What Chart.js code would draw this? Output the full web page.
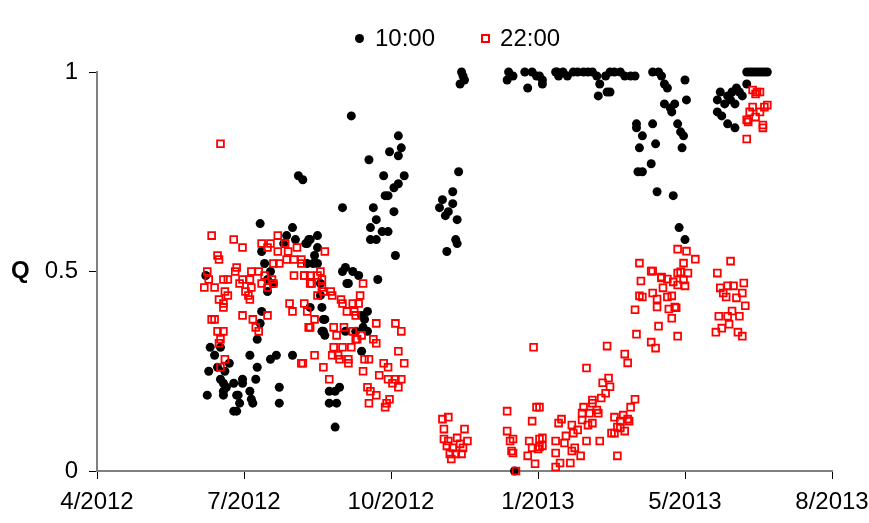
<!DOCTYPE html>
<html>
<head>
<meta charset="utf-8">
<script src="https://cdn.jsdelivr.net/npm/chart.js@4.4.1/dist/chart.umd.min.js"></script>
<style>
  body { margin: 0; background: #fff; }
  #wrap { position: relative; width: 869px; height: 523px; }
  #legend { position: absolute; top: 24px; left: 355px; display: flex; align-items: center;
            font: 24px Arial, "Liberation Sans", sans-serif; color: #000; }
  .dot { width: 9px; height: 9px; border-radius: 50%; background: #000; margin-right: 11px; }
  .sq { box-sizing: border-box; width: 9px; height: 9px; border: 2px solid #ff0000; margin-right: 10px; }
  .gap { width: 46px; }
</style>
</head>
<body>
<div id="wrap">
  <canvas id="chart" width="869" height="523"></canvas>
  <div id="legend">
    <span class="dot"></span><span>10:00</span><span class="gap"></span>
    <span class="sq"></span><span>22:00</span>
  </div>
</div>
<script>
// x values are days counted from 1 Apr 2012 (axis runs 0..500 in steps of 100 days)
const xTickDays = [0, 100, 200, 300, 400, 500];
const xTickLabels = ['4/2012', '7/2012', '10/2012', '1/2013', '5/2013', '8/2013'];
const yTicks = [0, 0.5, 1];

// 10:00 readings
const am10Days = [
  74, 77, 80, 84, 90, 82, 87, 109, 108, 76, 84, 86, 88, 93, 99, 99, 104, 105, 106, 75,
  86, 86, 95, 96, 97, 95, 93, 124, 124, 104, 118, 122, 133, 112, 111, 109, 116, 120, 116, 114,
  111, 129, 133, 135, 137, 140, 112, 127, 118, 143, 145, 150, 144, 142, 148, 150, 147, 143, 150, 167,
  167, 169, 174, 178, 170, 171, 191, 152, 152, 153, 154, 155, 153, 154, 155, 145, 180, 182, 184, 181,
  176, 169, 184, 180, 158, 162, 165, 163, 158, 162, 173, 205, 207, 199, 205, 185, 195, 209, 202, 205,
  196, 198, 188, 202, 190, 186, 194, 198, 186, 190, 203, 246, 242, 235, 233, 242, 239, 237, 245, 244,
  245, 238, 248, 249, 247, 250, 280, 283, 279, 291, 296, 299, 301, 303, 293, 313, 284, 303, 312, 314,
  317, 320, 324, 327, 331, 334, 337, 340, 342, 346, 349, 352, 356, 359, 363, 366, 341, 347, 349, 378,
  382, 384, 386, 388, 386, 390, 391, 393, 401, 400, 395, 397, 399, 367, 367, 378, 371, 369, 380, 398,
  377, 368, 371, 381, 392, 396, 400, 424, 429, 435, 437, 442, 432, 422, 427, 431, 434, 439, 422, 425,
  429, 434, 442, 444, 446, 448, 450, 452, 454, 456
];
const am10Q = [
  0.49, 0.31, 0.29, 0.31, 0.27, 0.26, 0.25, 0.26, 0.23, 0.25, 0.23, 0.22, 0.21, 0.22, 0.23, 0.22, 0.20, 0.18, 0.17, 0.19,
  0.20, 0.19, 0.19, 0.19, 0.17, 0.15, 0.15, 0.21, 0.17, 0.29, 0.28, 0.29, 0.29, 0.40, 0.37, 0.33, 0.45, 0.47, 0.48, 0.52,
  0.62, 0.59, 0.61, 0.58, 0.74, 0.73, 0.55, 0.57, 0.50, 0.57, 0.58, 0.59, 0.58, 0.57, 0.54, 0.56, 0.52, 0.52, 0.52, 0.66,
  0.50, 0.51, 0.50, 0.49, 0.47, 0.47, 0.48, 0.47, 0.44, 0.41, 0.38, 0.38, 0.35, 0.35, 0.34, 0.41, 0.39, 0.38, 0.35, 0.36,
  0.35, 0.35, 0.40, 0.30, 0.20, 0.20, 0.21, 0.17, 0.17, 0.11, 0.89, 0.84, 0.81, 0.80, 0.79, 0.78, 0.74, 0.74, 0.71, 0.72,
  0.69, 0.69, 0.66, 0.65, 0.63, 0.61, 0.60, 0.60, 0.58, 0.58, 0.54, 0.75, 0.70, 0.68, 0.66, 0.67, 0.65, 0.64, 0.63, 0.58,
  0.57, 0.55, 1.00, 0.99, 0.97, 0.98, 1.00, 0.99, 0.98, 1.00, 1.00, 0.99, 0.99, 0.97, 0.96, 1.00, 0.00, 0.98, 1.00, 0.99,
  1.00, 0.99, 1.00, 1.00, 1.00, 1.00, 1.00, 0.99, 0.97, 0.99, 1.00, 1.00, 1.00, 0.99, 0.99, 0.99, 0.94, 0.95, 0.95, 1.00,
  1.00, 0.99, 0.97, 0.96, 0.92, 0.91, 0.90, 0.92, 0.93, 0.98, 0.87, 0.85, 0.84, 0.87, 0.86, 0.87, 0.84, 0.81, 0.82, 0.81,
  0.77, 0.75, 0.75, 0.70, 0.69, 0.61, 0.58, 0.95, 0.94, 0.96, 0.95, 0.97, 0.95, 0.93, 0.92, 0.93, 0.92, 0.94, 0.90, 0.89,
  0.87, 0.86, 1.00, 1.00, 1.00, 1.00, 1.00, 1.00, 1.00, 1.00
];

// 22:00 readings
const pm22Days = [
  84, 78, 93, 99, 112, 118, 123, 128, 136, 130, 116, 82, 83, 123, 120, 124, 129, 134, 139, 75,
  76, 73, 80, 86, 89, 87, 89, 83, 86, 86, 95, 94, 99, 105, 110, 104, 97, 101, 105, 103,
  104, 114, 112, 119, 120, 116, 134, 141, 145, 131, 133, 141, 143, 78, 80, 99, 116, 106, 108, 110,
  82, 86, 84, 83, 87, 84, 144, 139, 155, 139, 141, 145, 150, 152, 153, 146, 153, 159, 154, 160,
  150, 181, 148, 145, 166, 167, 179, 178, 174, 170, 175, 176, 161, 163, 168, 174, 177, 180, 176, 190,
  203, 207, 188, 190, 161, 167, 173, 160, 164, 165, 171, 171, 148, 140, 154, 158, 182, 185, 181, 195,
  198, 192, 205, 209, 207, 203, 198, 201, 205, 184, 186, 190, 185, 199, 197, 196, 235, 239, 236, 250,
  236, 239, 245, 252, 238, 242, 247, 249, 240, 244, 248, 241, 297, 299, 279, 296, 279, 281, 283, 282,
  283, 294, 296, 301, 303, 303, 300, 293, 298, 285, 312, 312, 312, 314, 301, 301, 315, 322, 316, 323,
  327, 324, 319, 318, 325, 323, 329, 333, 342, 333, 331, 337, 337, 340, 341, 330, 335, 330, 334, 337,
  343, 346, 348, 349, 344, 352, 358, 356, 361, 362, 354, 359, 350, 352, 356, 354, 366, 363, 347, 359,
  361, 367, 377, 380, 369, 377, 370, 369, 371, 378, 381, 381, 366, 384, 385, 388, 388, 391, 389, 391,
  393, 395, 395, 395, 382, 395, 401, 407, 399, 397, 402, 378, 384, 392, 399, 400, 394, 431, 422, 424,
  429, 433, 440, 426, 428, 435, 439, 441, 432, 423, 429, 437, 430, 425, 421, 436, 439, 446, 449, 451,
  448, 446, 454, 451, 444, 448, 442, 443, 453, 453, 442, 456
];
const pm22Q = [
  0.82, 0.59, 0.58, 0.56, 0.57, 0.57, 0.59, 0.57, 0.56, 0.55, 0.56, 0.54, 0.53, 0.55, 0.52, 0.52, 0.53, 0.53, 0.53, 0.50,
  0.48, 0.46, 0.46, 0.48, 0.48, 0.45, 0.44, 0.43, 0.42, 0.41, 0.51, 0.50, 0.48, 0.50, 0.50, 0.48, 0.47, 0.45, 0.46, 0.44,
  0.43, 0.49, 0.47, 0.48, 0.47, 0.46, 0.49, 0.49, 0.47, 0.42, 0.40, 0.42, 0.40, 0.38, 0.38, 0.39, 0.39, 0.38, 0.36, 0.35,
  0.35, 0.35, 0.33, 0.32, 0.28, 0.26, 0.36, 0.27, 0.55, 0.52, 0.49, 0.49, 0.49, 0.50, 0.48, 0.47, 0.46, 0.45, 0.45, 0.44,
  0.44, 0.47, 0.38, 0.36, 0.43, 0.42, 0.44, 0.42, 0.42, 0.40, 0.40, 0.39, 0.36, 0.34, 0.36, 0.35, 0.33, 0.34, 0.33, 0.37,
  0.37, 0.35, 0.33, 0.32, 0.31, 0.31, 0.31, 0.29, 0.29, 0.28, 0.28, 0.27, 0.29, 0.27, 0.26, 0.23, 0.28, 0.28, 0.25, 0.27,
  0.26, 0.24, 0.30, 0.27, 0.23, 0.23, 0.23, 0.22, 0.21, 0.21, 0.20, 0.19, 0.17, 0.18, 0.17, 0.16, 0.13, 0.135, 0.105, 0.105,
  0.08, 0.075, 0.083, 0.075, 0.063, 0.058, 0.068, 0.058, 0.043, 0.043, 0.043, 0.03, 0.31, 0.16, 0.15, 0.125, 0.10, 0.075, 0.08, 0.05,
  0.045, 0.075, 0.058, 0.08, 0.083, 0.063, 0.055, 0.038, 0.018, 0.00, 0.075, 0.045, 0.01, 0.12, 0.16, 0.06, 0.02, 0.02, 0.13, 0.115,
  0.103, 0.095, 0.088, 0.07, 0.058, 0.05, 0.038, 0.075, 0.075, 0.258, 0.16, 0.178, 0.17, 0.153, 0.145, 0.145, 0.145, 0.128, 0.115, 0.12,
  0.183, 0.195, 0.233, 0.211, 0.221, 0.135, 0.14, 0.125, 0.13, 0.125, 0.11, 0.10, 0.095, 0.095, 0.108, 0.038, 0.18, 0.16, 0.313, 0.293,
  0.271, 0.343, 0.323, 0.308, 0.521, 0.501, 0.476, 0.439, 0.436, 0.446, 0.431, 0.411, 0.404, 0.486, 0.459, 0.481, 0.436, 0.439, 0.406, 0.383,
  0.411, 0.556, 0.466, 0.496, 0.363, 0.338, 0.551, 0.531, 0.521, 0.499, 0.496, 0.501, 0.484, 0.474, 0.479, 0.464, 0.409, 0.526, 0.496, 0.459,
  0.464, 0.464, 0.471, 0.446, 0.436, 0.434, 0.446, 0.414, 0.401, 0.388, 0.388, 0.388, 0.368, 0.358, 0.348, 0.348, 0.338, 0.955, 0.95, 0.95,
  0.945, 0.912, 0.912, 0.90, 0.90, 0.887, 0.88, 0.875, 0.867, 0.86, 0.832, 0.917
];

const font = { family: 'Arial, "Liberation Sans", sans-serif', size: 24 };

const toPoints = (xs, ys) => xs.map((x, i) => ({ x: x, y: ys[i] }));

// bold "Q" beside the y axis, level with 0.5
const qLabel = {
  id: 'qLabel',
  afterDraw(chart) {
    const c = chart.ctx;
    c.save();
    c.font = 'bold 24px Arial, "Liberation Sans", sans-serif';
    c.fillStyle = '#000';
    c.textBaseline = 'middle';
    c.fillText('Q', 11, chart.scales.y.getPixelForValue(0.5));
    c.restore();
  }
};

new Chart(document.getElementById('chart'), {
  type: 'scatter',
  data: {
    datasets: [
      {
        label: '22:00',
        data: toPoints(pm22Days, pm22Q),
        pointStyle: 'rect',
        pointRadius: 4.8,
        borderColor: '#ff0000',
        backgroundColor: 'rgba(0,0,0,0)',
        borderWidth: 1.8,
        order: 1,
        clip: false
      },
      {
        label: '10:00',
        data: toPoints(am10Days, am10Q),
        pointStyle: 'circle',
        pointRadius: 4.5,
        backgroundColor: '#000',
        borderWidth: 0,
        order: 2,
        clip: false
      }
    ]
  },
  options: {
    responsive: false,
    animation: false,
    devicePixelRatio: 1,
    layout: { padding: { top: 72, right: 37, left: 0, bottom: 0 } },
    plugins: { legend: { display: false }, tooltip: { enabled: false } },
    scales: {
      x: {
        type: 'linear',
        min: xTickDays[0],
        max: xTickDays[xTickDays.length - 1],
        afterBuildTicks: s => { s.ticks = xTickDays.map(v => ({ value: v })); },
        afterFit: s => { s.height = 52; s.paddingLeft = 0; s.paddingRight = 0; },
        grid: { drawOnChartArea: false, tickLength: 8, tickColor: '#000' },
        border: { color: '#808080', width: 2 },
        ticks: {
          callback: v => xTickLabels[xTickDays.indexOf(v)],
          maxRotation: 0,
          autoSkip: false,
          padding: 9,
          color: '#000',
          font: font
        }
      },
      y: {
        min: 0,
        max: 1,
        afterBuildTicks: s => { s.ticks = yTicks.map(v => ({ value: v })); },
        afterFit: s => { s.width = 97; },
        grid: { drawOnChartArea: false, tickLength: 8, tickColor: '#000' },
        border: { color: '#808080', width: 2 },
        ticks: { callback: v => String(v), padding: 11, color: '#000', font: font }
      }
    }
  },
  plugins: [qLabel]
});
</script>
</body>
</html>
